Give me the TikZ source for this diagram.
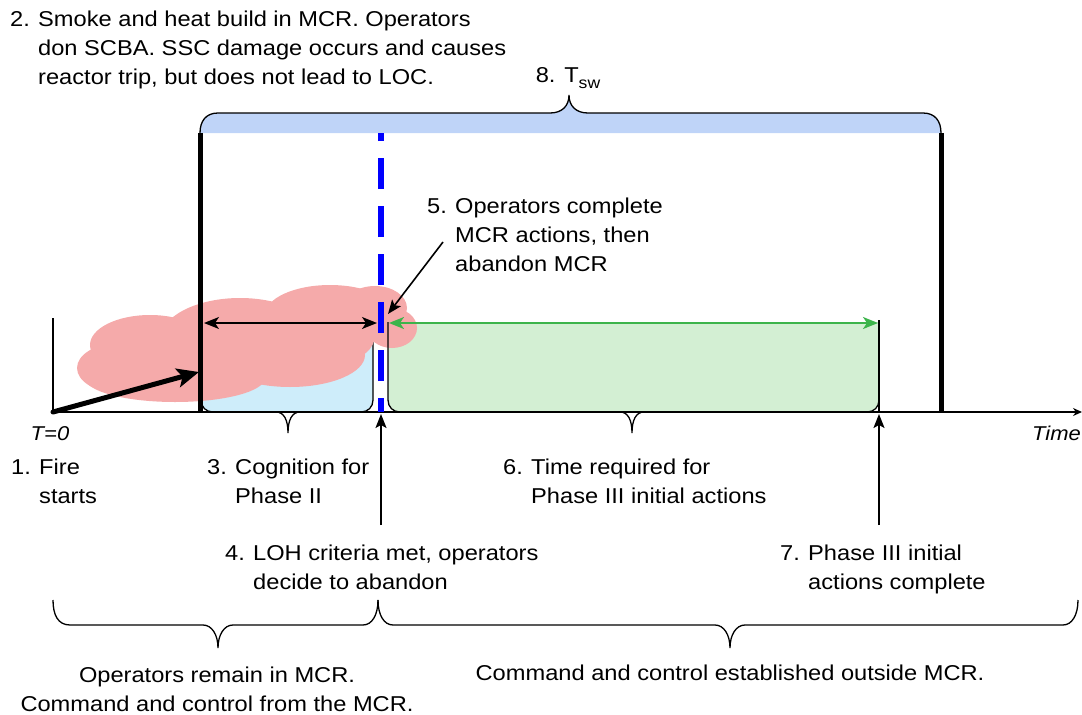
\documentclass[tikz,border=0pt]{standalone}
\usepackage{fontspec}
\setmainfont{Liberation Sans}[FakeStretch=1.1]
\usetikzlibrary{arrows.meta}

\definecolor{smoke}{RGB}{245,170,170}
\definecolor{cogfill}{RGB}{206,237,250}
\definecolor{actfill}{RGB}{211,239,211}
\definecolor{bandfill}{RGB}{191,212,248}
\definecolor{actgreen}{RGB}{60,180,75}
\definecolor{abandonblue}{RGB}{0,0,255}

\newcommand\labfont{\fontsize{21.5}{29}\selectfont}
% numbered label with a hanging indent
\newcommand\hanglabel[2]{\begin{tabular}[t]{@{}p{28pt}@{}l@{}}#1&#2\end{tabular}}

\begin{document}
\begin{tikzpicture}[x=1pt,y=-1pt,
  thinline/.style={line width=1.6pt},
  braceline/.style={line width=1.3pt},
  bar/.style={line width=5pt},
  lbl/.style={inner sep=0pt, font=\labfont, anchor=base west},
  ctr/.style={inner sep=0pt, font=\labfont, anchor=base},
  tip/.style={-{Stealth[length=15pt,width=12pt,inset=4pt]}},
  dtip/.style={{Stealth[length=15pt,width=12pt,inset=4pt]}-{Stealth[length=15pt,width=12pt,inset=4pt]}}
]
\useasboundingbox (0,0) rectangle (1082,715);

% key points of the time line
\coordinate (origin) at (53,412);
\coordinate (axisend) at (1082,412);
\coordinate (origintop) at (53,318);
\coordinate (firetip) at (199,372);
\coordinate (p2top) at (200,133);
\coordinate (p2bot) at (200,412);
\coordinate (swtop) at (941,133);
\coordinate (swbot) at (941,412);
\coordinate (abtop) at (381,133);
\coordinate (abbot) at (381,412);
\coordinate (p3top) at (879,320);
\coordinate (p3bot) at (879,412);

% coping time band with its brace
\fill[bandfill] (200,133) .. controls (200,121) and (206,113) .. (218,113) -- (550,113)
  .. controls (562,113) and (569,106) .. (569,95) .. controls (569,106) and (576,113) .. (588,113)
  -- (923,113) .. controls (935,113) and (941,121) .. (941,133) -- cycle;
\draw[braceline] (200,133) .. controls (200,121) and (206,113) .. (218,113) -- (550,113)
  .. controls (562,113) and (569,106) .. (569,95) .. controls (569,106) and (576,113) .. (588,113)
  -- (923,113) .. controls (935,113) and (941,121) .. (941,133);

% cognition interval
\fill[cogfill] (201,323) -- (201,400) .. controls (201,407) and (206,412) .. (213,412)
  -- (361,412) .. controls (368,412) and (373,407) .. (373,400) -- (373,323) -- cycle;
\draw[braceline] (201,400) .. controls (201,407) and (206,412) .. (213,412) -- (276,412)
  .. controls (284,412) and (288,420) .. (288,433) .. controls (288,420) and (292,412) .. (300,412)
  -- (361,412) .. controls (368,412) and (373,407) .. (373,400) -- (373,323);

% Phase III interval
\fill[actfill] (388,322) -- (388,400) .. controls (388,407) and (393,412) .. (400,412)
  -- (867,412) .. controls (874,412) and (879,407) .. (879,400) -- (879,322) -- cycle;

% smoke cloud
\fill[smoke] (330,315) ellipse [x radius=65, y radius=30];
\fill[smoke] (375,308) ellipse [x radius=32, y radius=22];
\fill[smoke] (392,328) ellipse [x radius=25, y radius=20];
\fill[smoke] (240,340) ellipse [x radius=80, y radius=42];
\fill[smoke] (150,345) ellipse [x radius=60, y radius=30];
\fill[smoke] (120,368) ellipse [x radius=43, y radius=25];
\fill[smoke] (175,378) ellipse [x radius=90, y radius=24];
\fill[smoke] (290,355) ellipse [x radius=75, y radius=32];
\fill[smoke] (345,335) ellipse [x radius=30, y radius=25];

\draw[braceline] (388,322) -- (388,400) .. controls (388,407) and (393,412) .. (400,412) -- (620,412)
  .. controls (628,412) and (632,420) .. (632,433) .. controls (632,420) and (636,412) .. (644,412)
  -- (867,412) .. controls (874,412) and (879,407) .. (879,400);
\draw[thinline] (p3top) -- (p3bot);

% time axis
\draw[thinline, -{Stealth[length=9pt,width=8pt]}] (origin) -- (axisend);
\draw[thinline] (origintop) -- (origin);

% phase boundaries
\draw[bar] (p2top) -- (p2bot);
\draw[bar] (swtop) -- (swbot);
\draw[abandonblue, line width=6pt, dash pattern=on 31pt off 17pt, dash phase=17pt] (abbot) -- (abtop);

% fire start arrow
\draw[line width=5pt, line cap=round, -{Stealth[length=22pt,width=19pt,inset=5pt]}] (origin) -- (firetip);

% interval arrows
\coordinate (cogl) at (204,323);
\coordinate (cogr) at (377,323);
\draw[thinline, dtip] (cogl) -- (cogr);
\coordinate (actl) at (389,323);
\coordinate (actr) at (878,323);
\draw[actgreen, line width=2pt, dtip] (actl) -- (actr);

% pointer arrows
\coordinate (n5) at (443,242);
\coordinate (n5tip) at (388,314);
\draw[thinline, -{Stealth[length=14pt,width=11pt,inset=3pt]}] (n5) -- (n5tip);
\coordinate (n4) at (381,525);
\coordinate (n4tip) at (381,414);
\draw[thinline, -{Stealth[length=14pt,width=11pt,inset=3pt]}] (n4) -- (n4tip);
\coordinate (n7) at (879,525);
\coordinate (n7tip) at (879,414);
\draw[thinline, -{Stealth[length=14pt,width=11pt,inset=3pt]}] (n7) -- (n7tip);

% braces for the command and control periods
\draw[braceline] (53,600) .. controls (53,615) and (58,625) .. (70,625) -- (203,625)
  .. controls (212,625) and (218,635) .. (218,648) .. controls (218,635) and (224,625) .. (233,625)
  -- (363,625) .. controls (372,625) and (378,615) .. (378,600);
\draw[braceline] (378,600) .. controls (378,615) and (384,625) .. (393,625) -- (715,625)
  .. controls (724,625) and (730,635) .. (730,648) .. controls (730,635) and (736,625) .. (745,625)
  -- (1063,625) .. controls (1072,625) and (1078,615) .. (1078,600);

% labels
\node[lbl] (l2) at (10,26) {\hanglabel{2.}{Smoke and heat build in MCR. Operators\\ & don SCBA. SSC damage occurs and causes\\ & reactor trip, but does not lead to LOC.}};
\node[ctr] (l8) at (568,82) {8. T\raisebox{-0.3em}{\fontsize{16}{16}\selectfont sw}};
\node[lbl] (l5) at (427,213) {\hanglabel{5.}{Operators complete\\ & MCR actions, then\\ & abandon MCR}};
\node[ctr, font=\fontsize{20}{24}\selectfont\itshape] (t0) at (50,440) {T=0};
\node[inner sep=0pt, anchor=base east, font=\fontsize{20}{24}\selectfont\itshape] (time) at (1081,440) {Time};
\node[lbl] (l1) at (11,474) {\hanglabel{1.}{Fire\\ & starts}};
\node[lbl] (l3) at (207,474) {\hanglabel{3.}{Cognition for\\ & Phase II}};
\node[lbl] (l6) at (503,474) {\hanglabel{6.}{Time required for\\ & Phase III initial actions}};
\node[lbl] (l4) at (225,560) {\hanglabel{4.}{LOH criteria met, operators\\ & decide to abandon}};
\node[lbl] (l7) at (780,560) {\hanglabel{7.}{Phase III initial\\ & actions complete}};
\node[ctr] (cin) at (217,682) {\begin{tabular}[t]{@{}c@{}}Operators remain in MCR.\\ Command and control from the MCR.\end{tabular}};
\node[ctr] (cout) at (730,680) {Command and control established outside MCR.};
\end{tikzpicture}
\end{document}
